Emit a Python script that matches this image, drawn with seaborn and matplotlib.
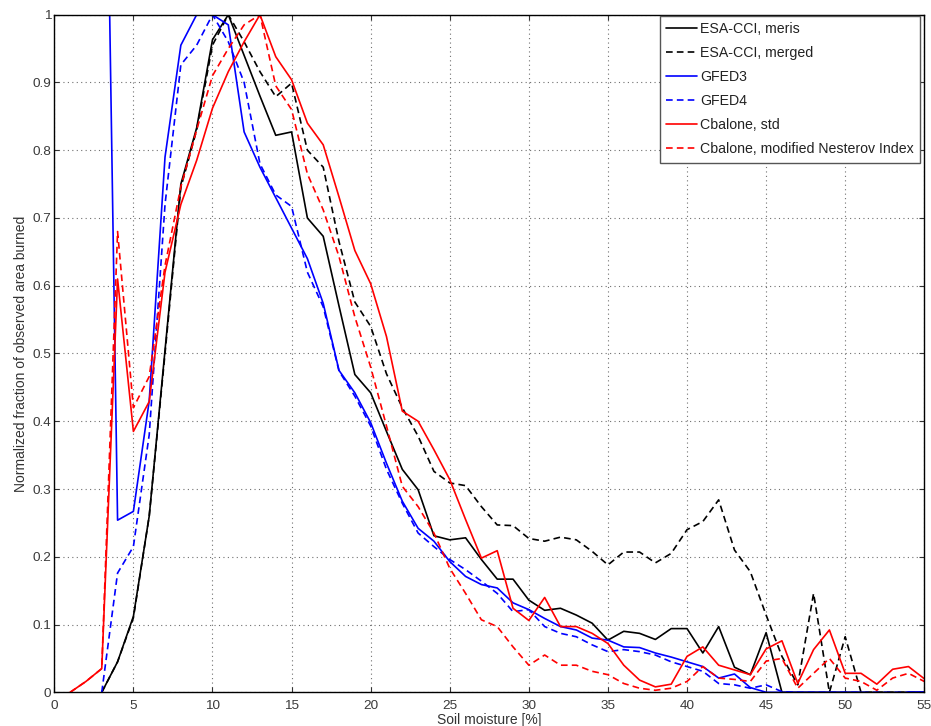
import numpy as np
import pandas as pd
import matplotlib
matplotlib.use("Agg")
import matplotlib.pyplot as plt
from matplotlib.lines import Line2D
import seaborn as sns

nan = np.nan

# Soil moisture bins [%]
soil_moisture = list(range(1, 56))

esa_meris = [nan, nan, 0.0, 0.045, 0.112, 0.26, 0.505, 0.75, 0.833, 0.963,
             1.0, 0.94, 0.88, 0.822, 0.827, 0.70, 0.673, 0.57, 0.469, 0.442,
             0.385, 0.329, 0.299, 0.231, 0.225, 0.228, 0.196, 0.167, 0.167, 0.136,
             0.121, 0.124, 0.114, 0.102, 0.077, 0.09, 0.087, 0.078, 0.094, 0.094,
             0.058, 0.097, 0.037, 0.026, 0.088, 0.0, 0.0, 0.0, 0.0, 0.0,
             0.0, 0.0, 0.0, 0.0, 0.0]

esa_merged = [nan, nan, 0.0, 0.045, 0.11, 0.26, 0.5, 0.745, 0.83, 0.955,
              1.0, 0.96, 0.916, 0.879, 0.899, 0.80, 0.775, 0.665, 0.576, 0.54,
              0.47, 0.42, 0.378, 0.326, 0.309, 0.305, 0.274, 0.247, 0.246, 0.227,
              0.223, 0.229, 0.225, 0.208, 0.188, 0.207, 0.207, 0.191, 0.205, 0.24,
              0.252, 0.284, 0.21, 0.178, 0.114, 0.053, 0.011, 0.146, 0.0, 0.082,
              0.0, 0.0, 0.0, 0.0, 0.0]

gfed3 = [nan, nan, 1.75, 0.254, 0.267, 0.43, 0.79, 0.955, 1.0, 1.0,
         0.985, 0.827, 0.775, 0.73, 0.685, 0.64, 0.574, 0.475, 0.442, 0.398,
         0.338, 0.282, 0.242, 0.223, 0.193, 0.171, 0.159, 0.154, 0.132, 0.122,
         0.109, 0.097, 0.092, 0.08, 0.077, 0.067, 0.066, 0.058, 0.052, 0.045,
         0.038, 0.021, 0.027, 0.007, 0.0, 0.0, 0.0, 0.0, 0.0, 0.0,
         0.0, nan, nan, 0.0, 0.0]

gfed4 = [nan, nan, 0.0, 0.176, 0.215, 0.38, 0.72, 0.926, 0.955, 1.0,
         0.96, 0.9, 0.78, 0.734, 0.717, 0.62, 0.569, 0.474, 0.437, 0.393,
         0.329, 0.279, 0.235, 0.215, 0.196, 0.181, 0.164, 0.146, 0.119, 0.122,
         0.097, 0.087, 0.082, 0.07, 0.06, 0.063, 0.06, 0.055, 0.045, 0.038,
         0.031, 0.013, 0.011, 0.006, 0.011, 0.001, 0.0, 0.0, 0.0, 0.0,
         0.0, 0.0, 0.0, 0.0, 0.0]

cbalone_std = [0.0, 0.016, 0.035, 0.61, 0.385, 0.429, 0.62, 0.72, 0.785, 0.862,
               0.916, 0.96, 1.0, 0.938, 0.904, 0.84, 0.808, 0.731, 0.652, 0.603,
               0.525, 0.415, 0.4, 0.358, 0.314, 0.255, 0.198, 0.209, 0.124, 0.106,
               0.14, 0.097, 0.097, 0.087, 0.072, 0.04, 0.018, 0.008, 0.012, 0.053,
               0.067, 0.04, 0.033, 0.026, 0.064, 0.076, 0.013, 0.063, 0.092, 0.028,
               0.028, 0.012, 0.034, 0.038, 0.02]

cbalone_nesterov = [0.0, 0.016, 0.035, 0.68, 0.42, 0.466, 0.63, 0.746, 0.83, 0.91,
                    0.95, 0.985, 1.0, 0.895, 0.86, 0.765, 0.712, 0.643, 0.554, 0.48,
                    0.393, 0.304, 0.274, 0.235, 0.183, 0.146, 0.107, 0.097, 0.067, 0.04,
                    0.055, 0.04, 0.04, 0.031, 0.026, 0.013, 0.006, 0.003, 0.006, 0.016,
                    0.038, 0.021, 0.019, 0.016, 0.046, 0.05, 0.006, 0.028, 0.05, 0.021,
                    0.016, 0.003, 0.021, 0.028, 0.016]

series_names = ["ESA-CCI, meris", "ESA-CCI, merged", "GFED3", "GFED4",
                "Cbalone, std", "Cbalone, modified Nesterov Index"]
series_values = [esa_meris, esa_merged, gfed3, gfed4, cbalone_std, cbalone_nesterov]

xtick_values = [0, 5, 10, 15, 20, 25, 30, 35, 40, 45, 50, 55]
ytick_values = [0, 0.1, 0.2, 0.3, 0.4, 0.5, 0.6, 0.7, 0.8, 0.9, 1.0]
ytick_labels = ["0", "0.1", "0.2", "0.3", "0.4", "0.5", "0.6", "0.7", "0.8", "0.9", "1"]

# Line styles
colors = ["#000000", "#000000", "#0000ff", "#0000ff", "#ff0000", "#ff0000"]
dash_on = (4, 2.5)
dashes = ["", dash_on, "", dash_on, "", dash_on]
palette = dict(zip(series_names, colors))
dash_map = dict(zip(series_names, dashes))

# Long table; gaps (NaN) split a curve into separate segments
rows = []
for name, vals in zip(series_names, series_values):
    seg = 0
    for xv, yv in zip(soil_moisture, vals):
        if np.isnan(yv):
            seg += 1
            continue
        rows.append({"moisture": xv, "burned": yv, "dataset": name,
                     "segment": f"{name}#{seg}"})
df = pd.DataFrame(rows)

sns.set_theme(style="white")
plt.rcParams["font.family"] = ["Liberation Sans", "DejaVu Sans"]
plt.rcParams["text.color"] = "#222222"

fig = plt.figure(figsize=(9.31, 7.26), dpi=100)
ax = fig.add_axes([54.3 / 931, 1 - 692.3 / 726, 870 / 931, 677.6 / 726])

lw = 1.2
sns.lineplot(data=df, x="moisture", y="burned", hue="dataset", style="dataset",
             units="segment", estimator=None, hue_order=series_names,
             style_order=series_names, palette=palette, dashes=dash_map,
             linewidth=lw, legend=False, ax=ax)

ax.set_xlim(0, 55)
ax.set_ylim(0, 1)
ax.set_xticks(xtick_values)
ax.set_xticklabels([str(v) for v in xtick_values])
ax.set_yticks(ytick_values)
ax.set_yticklabels(ytick_labels)

ax.grid(True, linestyle=(0, (1, 3)), color="#707070", linewidth=0.8)
ax.set_axisbelow(True)
for sp in ax.spines.values():
    sp.set_color("#000000")
    sp.set_linewidth(1.0)
    sp.set_visible(True)

ax.tick_params(axis="both", direction="in", length=3.6, width=0.8,
               colors="#333333", labelsize=9.7, top=True, right=True,
               bottom=True, left=True)
ax.tick_params(axis="x", pad=5.5)
ax.tick_params(axis="y", pad=2.2)
for lab in ax.get_xticklabels() + ax.get_yticklabels():
    lab.set_color("#3a3a3a")

ax.set_xlabel("Soil moisture [%]", fontsize=10, color="#333333", labelpad=0.6)
ax.set_ylabel("Normalized fraction of observed area burned", fontsize=10,
              color="#333333", labelpad=3)

handles = []
for c, d in zip(colors, dashes):
    h = Line2D([], [], color=c, linewidth=lw)
    if d:
        h.set_dashes(d)
    handles.append(h)

leg = ax.legend(handles, series_names, loc="upper right",
                bbox_to_anchor=((920 - 54.3) / 870, (692.3 - 15.7) / 677.6),
                borderaxespad=0, fontsize=10.2, handlelength=2.15,
                handletextpad=0.22, labelspacing=0.71, borderpad=0.45,
                fancybox=False, framealpha=1, edgecolor="#555555")
leg.get_frame().set_linewidth(1.0)
for t in leg.get_texts():
    t.set_color("#222222")

fig.savefig("out.png", dpi=100)
